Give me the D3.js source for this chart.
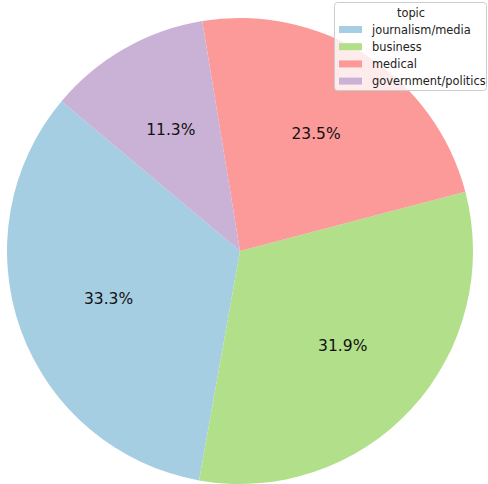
<!DOCTYPE html>
<html><head><meta charset="utf-8">
<script src="https://cdn.jsdelivr.net/npm/d3@7"></script>
<style>body{margin:0;background:#fff}svg{display:block}</style>
</head><body>
<svg id="c" width="488" height="484"></svg>
<script>
const categories = ["journalism/media","business","medical","government/politics"];
const values = [33.3, 31.9, 23.5, 11.3];
const colors = ["#a6cee3","#b2df8a","#fb9a99","#cab2d6"];
const legendTitle = "topic";

const svg = d3.select("#c");
const cx = 240, cy = 251, r = 233;
const deg = Math.PI/180;
const startMath = 140; // matplotlib startangle, counterclockwise
const pie = d3.pie().sort(null)
  .startAngle((90 - startMath) * deg)
  .endAngle((90 - startMath - 360) * deg);
const arcs = pie(values);
const arc = d3.arc().innerRadius(0).outerRadius(r);
const g = svg.append("g").attr("transform", `translate(${cx},${cy})`);
g.selectAll("path").data(arcs).join("path")
  .attr("d", arc).attr("fill", (d,i)=>colors[i]);
const lab = d3.arc().innerRadius(r*0.6).outerRadius(r*0.6);
g.selectAll("text").data(arcs).join("text")
  .attr("transform", d=>`translate(${lab.centroid(d)})`)
  .attr("text-anchor","middle").attr("dominant-baseline","central")
  .attr("font-family","DejaVu Sans").attr("font-size",15.5).attr("fill","#111")
  .text(d=>d.value.toFixed(1)+"%");

// legend
const lg = svg.append("g");
lg.append("rect").attr("x",334.5).attr("y",2.5).attr("width",152).attr("height",88)
  .attr("rx",3).attr("fill","#fff").attr("fill-opacity",0.8).attr("stroke","#cccccc");
lg.append("text").attr("x",411).attr("y",17).attr("text-anchor","middle")
  .attr("font-family","DejaVu Sans").attr("font-size",11.4).attr("fill","#222").text(legendTitle);
const rows = lg.selectAll("g.it").data(categories).join("g").attr("class","it")
  .attr("transform",(d,i)=>`translate(0,${29.5 + i*17.2})`);
rows.append("rect").attr("x",339).attr("y",-3.5).attr("width",23).attr("height",7)
  .attr("fill",(d,i)=>colors[i]);
rows.append("text").attr("x",372).attr("y",0).attr("dominant-baseline","central")
  .attr("font-family","DejaVu Sans").attr("font-size",11.4).attr("fill","#222").text(d=>d);
</script>
</body></html>
